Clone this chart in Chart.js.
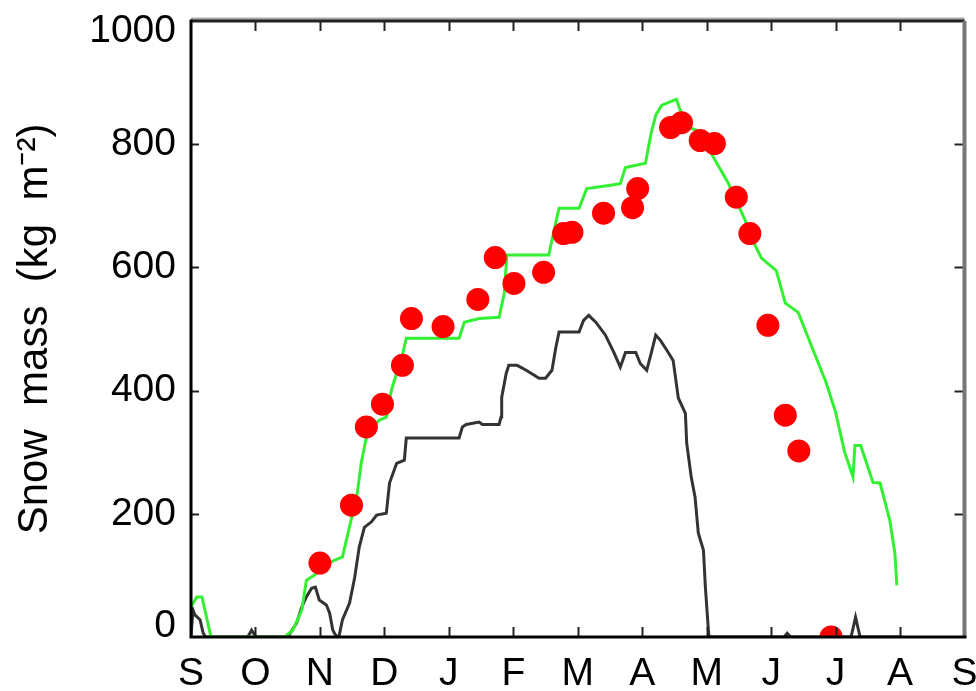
<!DOCTYPE html>
<html><head><meta charset="utf-8">
<script src="https://cdn.jsdelivr.net/npm/chart.js@4.4.1/dist/chart.umd.min.js"></script>
<style>html,body{margin:0;padding:0;background:#fff;overflow:hidden}#wrap{width:976px;height:691px}</style>
</head><body><div id="wrap"><canvas id="c" width="976" height="691"></canvas></div>
<script>
// Month axis: 0 = 1 September, 12 = next 1 September
const monthLabels = ['S','O','N','D','J','F','M','A','M','J','J','A','S'];
const yTickValues = [0, 200, 400, 600, 800, 1000];

// Green model curve
const greenMonths = [0,0.09,0.17,0.25,0.31,1.45,1.58,1.72,1.79,1.92,2.07,2.23,2.35,2.41,2.49,2.58,2.64,2.72,2.80,2.92,3.03,3.11,3.19,3.26,3.34,4.16,4.24,4.47,4.78,4.86,4.90,5.55,5.66,5.71,6.02,6.14,6.48,6.66,6.74,7.05,7.14,7.21,7.30,7.53,7.59,7.76,7.95,8.07,8.33,8.60,8.75,8.85,9.08,9.22,9.42,9.62,9.85,10.00,10.14,10.27,10.30,10.39,10.58,10.69,10.84,10.92,10.95];
const greenMass = [49,65,65,28,0,0,11,44,92,101,115,125,130,157,193,234,282,324,339,352,357,401,428,449,485,485,511,517,519,558,620,620,673,696,696,728,733,736,762,769,819,847,863,873,855,826,818,785,738,676,636,615,595,542,527,474,414,365,300,260,311,311,251,250,190,136,84];

// Black model curve
const blackMonths = [0,0.03,0.06,0.14,0.19,0.23,0.88,0.94,1.01,1.50,1.64,1.72,1.79,1.87,1.93,1.99,2.10,2.15,2.20,2.26,2.30,2.35,2.46,2.54,2.61,2.69,2.80,2.88,3.03,3.08,3.19,3.31,3.34,4.16,4.21,4.27,4.47,4.52,4.78,4.81,4.82,4.89,4.93,5.06,5.20,5.40,5.50,5.60,5.66,5.71,6.02,6.09,6.17,6.28,6.43,6.56,6.66,6.74,6.90,6.97,7.07,7.14,7.21,7.28,7.38,7.48,7.56,7.67,7.69,7.76,7.82,7.87,7.95,7.98,8.03,8.04,9.20,9.25,9.30,10.24,10.31,10.38,11.0];
const blackMass = [0,44,36,28,6,0,0,11,0,0,23,49,65,79,81,60,52,39,11,0,3,28,55,97,146,178,187,198,201,250,282,287,323,323,341,345,349,345,345,357,389,428,441,441,433,420,420,433,470,495,495,514,522,511,490,462,438,462,462,444,433,461,490,482,466,449,388,363,315,260,227,169,141,81,6,0,0,6,0,0,32,0,0];

// Observations (red dots)
const obsMonths = [2.00,2.49,2.72,2.97,3.28,3.42,3.91,4.45,4.72,5.01,5.47,5.78,5.91,6.40,6.85,6.93,7.44,7.61,7.90,8.12,8.46,8.67,8.95,9.22,9.43,9.93];
const obsMass = [120,214,341,378,441,517,504,548,616,574,592,655,657,688,697,728,827,835,806,801,714,655,506,360,302,0];

const pts = (xs, ys) => xs.map((x, i) => ({x: x, y: ys[i]}));
const FONT = "'Liberation Sans', Arial, sans-serif";
const TICK_SIZE = 39;

const framePlugin = {
  id: 'frame',
  afterDraw(chart) {
    const ctx = chart.ctx, a = chart.chartArea;
    const xs = chart.scales.x, ys = chart.scales.y;
    ctx.save();
    ctx.lineCap = 'butt';
    // inward ticks
    ctx.strokeStyle = '#222'; ctx.lineWidth = 2;
    for (let m = 1; m < monthLabels.length - 1; m++) {
      const px = Math.round(xs.getPixelForValue(m)) + 0.5;
      ctx.beginPath(); ctx.moveTo(px, a.top); ctx.lineTo(px, a.top + 10); ctx.stroke();
      ctx.beginPath(); ctx.moveTo(px, a.bottom); ctx.lineTo(px, a.bottom - 10); ctx.stroke();
    }
    for (const v of yTickValues) {
      if (v === 0 || v === 1000) continue;
      const py = Math.round(ys.getPixelForValue(v)) + 0.5;
      ctx.beginPath(); ctx.moveTo(a.left, py); ctx.lineTo(a.left + 8, py); ctx.stroke();
      ctx.beginPath(); ctx.moveTo(a.right, py); ctx.lineTo(a.right - 10, py); ctx.stroke();
    }
    // frame
    ctx.lineWidth = 3;
    ctx.strokeStyle = '#aaa';
    ctx.beginPath(); ctx.moveTo(a.left, a.top - 2); ctx.lineTo(a.right, a.top - 2); ctx.stroke();
    ctx.strokeStyle = '#222';
    ctx.beginPath(); ctx.moveTo(a.left, a.top); ctx.lineTo(a.right, a.top); ctx.stroke();
    ctx.strokeStyle = '#777';
    ctx.lineWidth = 4;
    ctx.beginPath(); ctx.moveTo(a.right, a.top); ctx.lineTo(a.right, a.bottom); ctx.stroke();
    ctx.lineWidth = 3;
    ctx.strokeStyle = '#000';
    ctx.beginPath(); ctx.moveTo(a.left, a.top - 1.5); ctx.lineTo(a.left, a.bottom); ctx.lineTo(a.right + 2, a.bottom); ctx.stroke();
    // y tick labels
    ctx.fillStyle = '#000';
    ctx.font = TICK_SIZE + 'px ' + FONT;
    ctx.textAlign = 'right';
    ctx.textBaseline = 'middle';
    for (const v of yTickValues) {
      let py = ys.getPixelForValue(v);
      if (v === 1000) py += 10;
      if (v === 0) py -= 11;
      ctx.fillText(String(v), a.left - 15, py);
    }
    ctx.restore();
  }
};

new Chart(document.getElementById('c'), {
  type: 'line',
  data: {
    datasets: [
      { label: 'Observed', data: pts(obsMonths, obsMass), showLine: false,
        pointRadius: 11.5, pointHoverRadius: 11.5, pointBackgroundColor: '#ff0000', pointBorderWidth: 0,
        borderColor: '#ff0000', order: 0, clip: 0 },
      { label: 'Model A', data: pts(greenMonths, greenMass), borderColor: '#33f033', borderWidth: 3,
        pointRadius: 0, tension: 0, fill: false, order: 1, clip: 0 },
      { label: 'Model B', data: pts(blackMonths, blackMass), borderColor: '#333333', borderWidth: 3,
        pointRadius: 0, tension: 0, fill: false, order: 2, clip: 0 }
    ]
  },
  options: {
    responsive: false, animation: false, devicePixelRatio: 1,
    layout: { padding: { top: 21, right: 9, left: 0, bottom: 0 } },
    plugins: { legend: { display: false }, tooltip: { enabled: false }, title: { display: false } },
    scales: {
      x: {
        type: 'linear', min: 0, max: 12,
        grid: { display: false, drawTicks: false }, border: { display: false },
        ticks: { stepSize: 1, autoSkip: false, maxRotation: 0, padding: 14, color: '#000',
          font: { family: FONT, size: TICK_SIZE }, callback: v => monthLabels[v] },
        afterFit: s => { s.height = 54; s.paddingLeft = 0; s.paddingRight = 0; }
      },
      y: {
        type: 'linear', min: 0, max: 1000,
        grid: { display: false, drawTicks: false }, border: { display: false },
        ticks: { display: false, stepSize: 200 },
        title: { display: true, text: 'Snow  mass  (kg  m\u207B\u00B2)', color: '#000',
          font: { family: FONT, size: 42 }, padding: { top: 10, bottom: 0 } },
        afterFit: s => { s.width = 191; s.paddingTop = 0; s.paddingBottom = 0; }
      }
    }
  },
  plugins: [framePlugin]
});
</script>
</body></html>
